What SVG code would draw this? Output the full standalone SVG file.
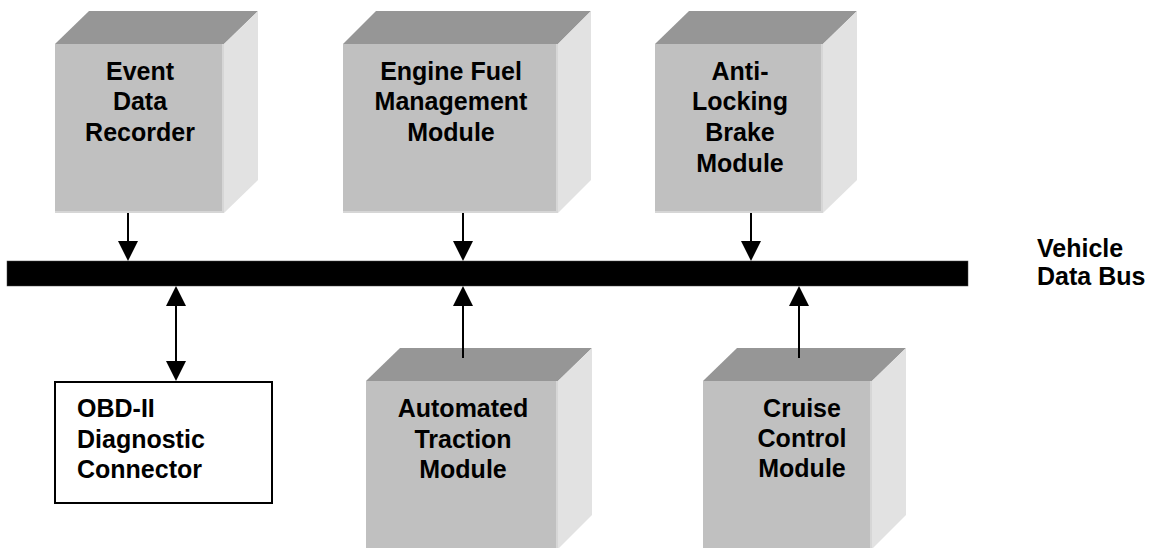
<svg xmlns="http://www.w3.org/2000/svg" width="1151" height="548" viewBox="0 0 1151 548">
<style>
.front{fill:#c0c0c0}
.top{fill:#969696}
.side{fill:#e2e2e2}
.hl{stroke:#d6d6d6;stroke-width:2;fill:none}
.lbl{font-family:"Liberation Sans",Arial,sans-serif;font-weight:bold;font-size:25px;fill:#000}
.mid{text-anchor:middle}
.conn line{stroke:#000;stroke-width:2}
</style>
<defs>
<marker id="ah" viewBox="0 0 20 20" refX="16" refY="10" markerWidth="20" markerHeight="20" orient="auto-start-reverse" markerUnits="userSpaceOnUse">
<path d="M0,0 L20,10 L0,20 z" fill="#000"/>
</marker>
</defs>
<rect width="1151" height="548" fill="#fff"/>

<g id="event-data-recorder">
<polygon class="top" points="55,44 89,11 258,11 224,44"/>
<polygon class="side" points="224,44 258,11 258,180 224,213"/>
<rect class="front" x="55" y="44" width="169" height="169"/>
<polyline class="hl" points="55,212 223,212 223,44"/>
<text class="lbl mid" x="140" y="80">Event</text>
<text class="lbl mid" x="140" y="110">Data</text>
<text class="lbl mid" x="140" y="141">Recorder</text>
</g>

<g id="engine-fuel-management-module">
<polygon class="top" points="343,44 376,11 591,11 558,44"/>
<polygon class="side" points="558,44 591,11 591,180 558,213"/>
<rect class="front" x="343" y="44" width="215" height="169"/>
<polyline class="hl" points="343,212 557,212 557,44"/>
<text class="lbl mid" x="451" y="80">Engine Fuel</text>
<text class="lbl mid" x="451" y="110">Management</text>
<text class="lbl mid" x="451" y="141">Module</text>
</g>

<g id="anti-locking-brake-module">
<polygon class="top" points="655,44 689,11 857,11 823,44"/>
<polygon class="side" points="823,44 857,11 857,180 823,213"/>
<rect class="front" x="655" y="44" width="168" height="169"/>
<polyline class="hl" points="655,212 822,212 822,44"/>
<text class="lbl mid" x="740" y="80">Anti-</text>
<text class="lbl mid" x="740" y="110">Locking</text>
<text class="lbl mid" x="740" y="141">Brake</text>
<text class="lbl mid" x="740" y="172">Module</text>
</g>

<g id="vehicle-data-bus">
<rect x="7" y="261" width="961" height="25" fill="#000" stroke="#444" stroke-width="0.5"/>
<text class="lbl" x="1037" y="257">Vehicle</text>
<text class="lbl" x="1037" y="285">Data Bus</text>
</g>

<g id="obd-ii-diagnostic-connector">
<rect x="55" y="382" width="217" height="121" fill="#fff" stroke="#000" stroke-width="2"/>
<text class="lbl" x="77" y="417">OBD-II</text>
<text class="lbl" x="77" y="448">Diagnostic</text>
<text class="lbl" x="77" y="478">Connector</text>
</g>

<g id="automated-traction-module">
<polygon class="top" points="366,381 400,348 592,348 558,381"/>
<polygon class="side" points="558,381 592,348 592,515 558,549"/>
<rect class="front" x="366" y="381" width="192" height="168"/>
<line class="hl" x1="557" y1="381" x2="557" y2="549"/>
<text class="lbl mid" x="463" y="417">Automated</text>
<text class="lbl mid" x="463" y="448">Traction</text>
<text class="lbl mid" x="463" y="478">Module</text>
</g>

<g id="cruise-control-module">
<polygon class="top" points="703,381 737,348 906,348 872,381"/>
<polygon class="side" points="872,381 906,348 906,515 872,549"/>
<rect class="front" x="703" y="381" width="169" height="168"/>
<line class="hl" x1="871" y1="381" x2="871" y2="549"/>
<text class="lbl mid" x="802" y="417">Cruise</text>
<text class="lbl mid" x="802" y="447">Control</text>
<text class="lbl mid" x="802" y="477">Module</text>
</g>

<g id="connectors" class="conn">
<line x1="128" y1="213" x2="128" y2="257" marker-end="url(#ah)"/>
<line x1="463" y1="213" x2="463" y2="257" marker-end="url(#ah)"/>
<line x1="751" y1="213" x2="751" y2="257" marker-end="url(#ah)"/>
<line x1="176" y1="290" x2="176" y2="377" marker-start="url(#ah)" marker-end="url(#ah)"/>
<line x1="463" y1="358" x2="463" y2="290" marker-end="url(#ah)"/>
<line x1="799" y1="358" x2="799" y2="290" marker-end="url(#ah)"/>
</g>
</svg>
